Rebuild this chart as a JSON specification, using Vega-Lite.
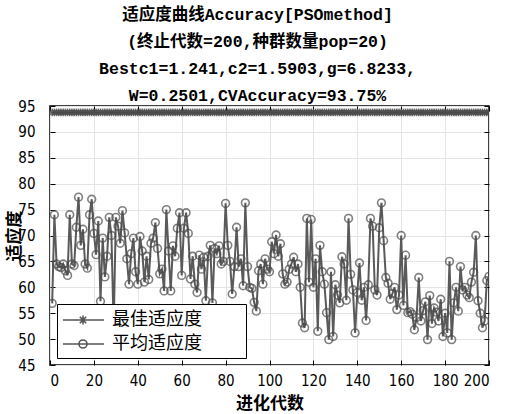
{
  "$schema": "https://vega.github.io/schema/vega-lite/v6.json",
  "width": 439,
  "height": 259,
  "autosize": "none",
  "padding": {"left": 50, "top": 106, "right": 18, "bottom": 49},
  "background": "white",
  "title": {
    "text": ["适应度曲线Accuracy[PSOmethod]", "(终止代数=200,种群数量pop=20)", "Bestc1=1.241,c2=1.5903,g=6.8233,", "W=0.2501,CVAccuracy=93.75%"],
    "font": "Liberation Mono, Noto Sans CJK SC",
    "fontSize": 16.5,
    "fontWeight": "bold",
    "lineHeight": 27,
    "color": "black",
    "anchor": "middle",
    "dx": -12,
    "offset": -5
  },
  "data": {
    "values": [
      {"g":1,"best":93.75,"avg":56.9},{"g":2,"best":93.75,"avg":74.0},{"g":3,"best":93.75,"avg":64.5},{"g":4,"best":93.75,"avg":64.0},{"g":5,"best":93.75,"avg":63.8},
      {"g":6,"best":93.75,"avg":64.5},{"g":7,"best":93.75,"avg":63.2},{"g":8,"best":93.75,"avg":62.3},{"g":9,"best":93.75,"avg":74.0},{"g":10,"best":93.75,"avg":64.5},
      {"g":11,"best":93.75,"avg":64.2},{"g":12,"best":93.75,"avg":71.6},{"g":13,"best":93.75,"avg":77.4},{"g":14,"best":93.75,"avg":68.1},{"g":15,"best":93.75,"avg":71.2},
      {"g":16,"best":93.75,"avg":64.5},{"g":17,"best":93.75,"avg":63.7},{"g":18,"best":93.75,"avg":74.0},{"g":19,"best":93.75,"avg":77.0},{"g":20,"best":93.75,"avg":70.4},
      {"g":21,"best":93.75,"avg":66.3},{"g":22,"best":93.75,"avg":72.8},{"g":23,"best":93.75,"avg":57.3},{"g":24,"best":93.75,"avg":69.5},{"g":25,"best":93.75,"avg":62.0},
      {"g":26,"best":93.75,"avg":66.0},{"g":27,"best":93.75,"avg":73.5},{"g":28,"best":93.75,"avg":70.0},{"g":29,"best":93.75,"avg":52.0},{"g":30,"best":93.75,"avg":73.5},
      {"g":31,"best":93.75,"avg":71.8},{"g":32,"best":93.75,"avg":68.5},{"g":33,"best":93.75,"avg":74.8},{"g":34,"best":93.75,"avg":70.5},{"g":35,"best":93.75,"avg":65.5},
      {"g":36,"best":93.75,"avg":60.6},{"g":37,"best":93.75,"avg":66.5},{"g":38,"best":93.75,"avg":69.5},{"g":39,"best":93.75,"avg":63.0},{"g":40,"best":93.75,"avg":60.6},
      {"g":41,"best":93.75,"avg":69.8},{"g":42,"best":93.75,"avg":67.0},{"g":43,"best":93.75,"avg":61.0},{"g":44,"best":93.75,"avg":66.0},{"g":45,"best":93.75,"avg":61.5},
      {"g":46,"best":93.75,"avg":68.5},{"g":47,"best":93.75,"avg":69.5},{"g":48,"best":93.75,"avg":72.5},{"g":49,"best":93.75,"avg":67.5},{"g":50,"best":93.75,"avg":62.6},
      {"g":51,"best":93.75,"avg":63.5},{"g":52,"best":93.75,"avg":59.3},{"g":53,"best":93.75,"avg":75.0},{"g":54,"best":93.75,"avg":67.0},{"g":55,"best":93.75,"avg":59.3},
      {"g":56,"best":93.75,"avg":68.0},{"g":57,"best":93.75,"avg":66.0},{"g":58,"best":93.75,"avg":71.4},{"g":59,"best":93.75,"avg":74.4},{"g":60,"best":93.75,"avg":62.3},
      {"g":61,"best":93.75,"avg":71.4},{"g":62,"best":93.75,"avg":74.4},{"g":63,"best":93.75,"avg":70.4},{"g":64,"best":93.75,"avg":61.6},{"g":65,"best":93.75,"avg":66.0},
      {"g":66,"best":93.75,"avg":60.6},{"g":67,"best":93.75,"avg":59.0},{"g":68,"best":93.75,"avg":66.2},{"g":69,"best":93.75,"avg":63.5},{"g":70,"best":93.75,"avg":65.8},
      {"g":71,"best":93.75,"avg":57.4},{"g":72,"best":93.75,"avg":66.0},{"g":73,"best":93.75,"avg":68.1},{"g":74,"best":93.75,"avg":57.0},{"g":75,"best":93.75,"avg":67.5},
      {"g":76,"best":93.75,"avg":66.5},{"g":77,"best":93.75,"avg":68.0},{"g":78,"best":93.75,"avg":64.5},{"g":79,"best":93.75,"avg":65.0},{"g":80,"best":93.75,"avg":76.2},
      {"g":81,"best":93.75,"avg":68.1},{"g":82,"best":93.75,"avg":65.0},{"g":83,"best":93.75,"avg":58.7},{"g":84,"best":93.75,"avg":64.0},{"g":85,"best":93.75,"avg":71.6},
      {"g":86,"best":93.75,"avg":64.0},{"g":87,"best":93.75,"avg":65.5},{"g":88,"best":93.75,"avg":60.3},{"g":89,"best":93.75,"avg":76.3},{"g":90,"best":93.75,"avg":64.0},
      {"g":91,"best":93.75,"avg":60.0},{"g":92,"best":93.75,"avg":59.8},{"g":93,"best":93.75,"avg":57.1},{"g":94,"best":93.75,"avg":55.4},{"g":95,"best":93.75,"avg":63.2},
      {"g":96,"best":93.75,"avg":64.5},{"g":97,"best":93.75,"avg":60.6},{"g":98,"best":93.75,"avg":65.5},{"g":99,"best":93.75,"avg":63.5},{"g":100,"best":93.75,"avg":63.0},
      {"g":101,"best":93.75,"avg":68.8},{"g":102,"best":93.75,"avg":66.5},{"g":103,"best":93.75,"avg":70.1},{"g":104,"best":93.75,"avg":66.0},{"g":105,"best":93.75,"avg":68.4},
      {"g":106,"best":93.75,"avg":62.6},{"g":107,"best":93.75,"avg":60.6},{"g":108,"best":93.75,"avg":61.0},{"g":109,"best":93.75,"avg":63.5},{"g":110,"best":93.75,"avg":64.5},
      {"g":111,"best":93.75,"avg":65.8},{"g":112,"best":93.75,"avg":63.0},{"g":113,"best":93.75,"avg":64.5},{"g":114,"best":93.75,"avg":60.0},{"g":115,"best":93.75,"avg":53.1},
      {"g":116,"best":93.75,"avg":52.2},{"g":117,"best":93.75,"avg":73.3},{"g":118,"best":93.75,"avg":61.0},{"g":119,"best":93.75,"avg":73.1},{"g":120,"best":93.75,"avg":60.0},
      {"g":121,"best":93.75,"avg":65.5},{"g":122,"best":93.75,"avg":51.5},{"g":123,"best":93.75,"avg":68.1},{"g":124,"best":93.75,"avg":63.0},{"g":125,"best":93.75,"avg":60.6},
      {"g":126,"best":93.75,"avg":55.1},{"g":127,"best":93.75,"avg":49.9},{"g":128,"best":93.75,"avg":63.0},{"g":129,"best":93.75,"avg":50.5},{"g":130,"best":93.75,"avg":60.5},
      {"g":131,"best":93.75,"avg":58.5},{"g":132,"best":93.75,"avg":57.0},{"g":133,"best":93.75,"avg":65.9},{"g":134,"best":93.75,"avg":64.5},{"g":135,"best":93.75,"avg":57.5},
      {"g":136,"best":93.75,"avg":73.3},{"g":137,"best":93.75,"avg":62.5},{"g":138,"best":93.75,"avg":59.5},{"g":139,"best":93.75,"avg":51.2},{"g":140,"best":93.75,"avg":59.0},
      {"g":141,"best":93.75,"avg":64.7},{"g":142,"best":93.75,"avg":57.5},{"g":143,"best":93.75,"avg":60.0},{"g":144,"best":93.75,"avg":53.6},{"g":145,"best":93.75,"avg":60.5},
      {"g":146,"best":93.75,"avg":73.3},{"g":147,"best":93.75,"avg":71.8},{"g":148,"best":93.75,"avg":59.5},{"g":149,"best":93.75,"avg":58.5},{"g":150,"best":93.75,"avg":71.5},
      {"g":151,"best":93.75,"avg":76.3},{"g":152,"best":93.75,"avg":69.0},{"g":153,"best":93.75,"avg":61.9},{"g":154,"best":93.75,"avg":60.8},{"g":155,"best":93.75,"avg":57.7},
      {"g":156,"best":93.75,"avg":58.8},{"g":157,"best":93.75,"avg":60.0},{"g":158,"best":93.75,"avg":55.7},{"g":159,"best":93.75,"avg":58.5},{"g":160,"best":93.75,"avg":70.0},
      {"g":161,"best":93.75,"avg":56.5},{"g":162,"best":93.75,"avg":66.2},{"g":163,"best":93.75,"avg":55.1},{"g":164,"best":93.75,"avg":55.3},{"g":165,"best":93.75,"avg":54.8},
      {"g":166,"best":93.75,"avg":51.8},{"g":167,"best":93.75,"avg":54.2},{"g":168,"best":93.75,"avg":61.9},{"g":169,"best":93.75,"avg":53.5},{"g":170,"best":93.75,"avg":55.5},
      {"g":171,"best":93.75,"avg":57.2},{"g":172,"best":93.75,"avg":49.9},{"g":173,"best":93.75,"avg":58.4},{"g":174,"best":93.75,"avg":53.0},{"g":175,"best":93.75,"avg":56.0},
      {"g":176,"best":93.75,"avg":55.2},{"g":177,"best":93.75,"avg":53.5},{"g":178,"best":93.75,"avg":57.7},{"g":179,"best":93.75,"avg":50.5},{"g":180,"best":93.75,"avg":55.0},
      {"g":181,"best":93.75,"avg":51.2},{"g":182,"best":93.75,"avg":65.0},{"g":183,"best":93.75,"avg":49.9},{"g":184,"best":93.75,"avg":57.0},{"g":185,"best":93.75,"avg":60.0},
      {"g":186,"best":93.75,"avg":55.4},{"g":187,"best":93.75,"avg":64.0},{"g":188,"best":93.75,"avg":59.5},{"g":189,"best":93.75,"avg":60.0},{"g":190,"best":93.75,"avg":58.5},
      {"g":191,"best":93.75,"avg":58.0},{"g":192,"best":93.75,"avg":61.0},{"g":193,"best":93.75,"avg":62.9},{"g":194,"best":93.75,"avg":70.0},{"g":195,"best":93.75,"avg":57.4},
      {"g":196,"best":93.75,"avg":55.0},{"g":197,"best":93.75,"avg":52.2},{"g":198,"best":93.75,"avg":53.5},{"g":199,"best":93.75,"avg":61.3},{"g":200,"best":93.75,"avg":62.1}
    ]
  },
  "transform": [{"fold": ["best", "avg"], "as": ["key", "value"]}],
  "layer": [
    {
      "mark": {"type": "line", "color": "#5a5a5a", "strokeWidth": 2, "clip": true},
      "encoding": {
        "x": {"field": "g", "type": "quantitative", "scale": {"domain": [0, 200], "nice": false},
          "axis": {"orient": "top", "labels": false, "title": null, "grid": false, "domain": false, "values": [0,20,40,60,80,100,120,140,160,180,200], "tickSize": -5, "tickColor": "black"}},
        "y": {"field": "value", "type": "quantitative", "scale": {"domain": [45, 95], "nice": false, "zero": false},
          "axis": {"orient": "right", "labels": false, "title": null, "grid": false, "domain": false, "values": [45,50,55,60,65,70,75,80,85,90,95], "tickSize": -5, "tickColor": "black"}},
        "detail": {"field": "key"}
      }
    },
    {
      "mark": {"type": "point", "filled": false, "color": "#4a4a4a", "strokeWidth": 1.6, "size": 60, "clip": true},
      "encoding": {
        "x": {"field": "g", "type": "quantitative",
          "axis": {"orient": "bottom", "title": "进化代数", "titleFontSize": 17, "grid": true, "gridColor": "#e4e4e4", "domain": false, "values": [0,20,40,60,80,100,120,140,160,180,200], "tickSize": -5, "tickColor": "black", "labelPadding": 13, "titlePadding": 7}},
        "y": {"field": "value", "type": "quantitative",
          "axis": {"orient": "left", "title": "适应度", "titleFontSize": 17, "grid": true, "gridColor": "#e4e4e4", "domain": false, "values": [45,50,55,60,65,70,75,80,85,90,95], "tickSize": -5, "tickColor": "black", "labelPadding": 20, "titlePadding": -6}},
        "shape": {"field": "key", "type": "nominal",
          "scale": {"domain": ["best", "avg"], "range": ["M-1,0L1,0M0,-1L0,1M-0.7,-0.7L0.7,0.7M-0.7,0.7L0.7,-0.7", "circle"]},
          "legend": null
        }
      }
    },
    {
      "transform": [{"filter": "datum.g < 0"}],
      "mark": {"type": "point", "filled": false, "color": "#555555", "strokeWidth": 1.6},
      "encoding": {
        "shape": {"field": "key", "type": "nominal",
          "scale": {"domain": ["best", "avg"], "range": ["M-1,0L3.1,0M0.55,0L1.45,0M1,-0.45L1,0.45M0.68,-0.32L1.32,0.32M0.68,0.32L1.32,-0.32", "M-1,0L3.1,0M0.6,0A0.4,0.4,0,1,1,1.4,0A0.4,0.4,0,1,1,0.6,0"]},
          "legend": {
            "title": null,
            "orient": "bottom-left",
            "offset": 7,
            "direction": "vertical",
            "strokeColor": "black",
            "fillColor": "white",
            "padding": 5,
            "rowPadding": 4,
            "symbolSize": 400,
            "symbolStrokeWidth": 1.6,
            "symbolStrokeColor": "#555555",
            "symbolFillColor": "transparent",
            "symbolOpacity": 1,
            "labelOffset": 28,
            "labelFont": "Noto Sans CJK SC",
            "labelFontSize": 18,
            "labelColor": "black",
            "labelLimit": 300,
            "labelExpr": "datum.value == 'best' ? '最佳适应度\u2800\u2800\u2800' : '平均适应度\u2800\u2800\u2800'",
            "encode": {
              "legend": {"stroke": {"value": "black"}, "strokeWidth": {"value": 2}, "fill": {"value": "white"}}
            }
          }
        }
      }
    }
  ],
  "resolve": {"axis": {"x": "independent", "y": "independent"}, "scale": {"shape": "independent"}},
  "config": {
    "view": {"stroke": "black", "strokeWidth": 1.5},
    "axis": {
      "labelFont": "Liberation Sans Narrow, DejaVu Sans Condensed, Liberation Sans",
      "labelFontSize": 15,
      "labelColor": "black",
      "titleFont": "Noto Sans CJK SC",
      "titleFontSize": 18,
      "titleFontWeight": "bold",
      "titleColor": "black",
      "tickWidth": 1
    }
  }
}
